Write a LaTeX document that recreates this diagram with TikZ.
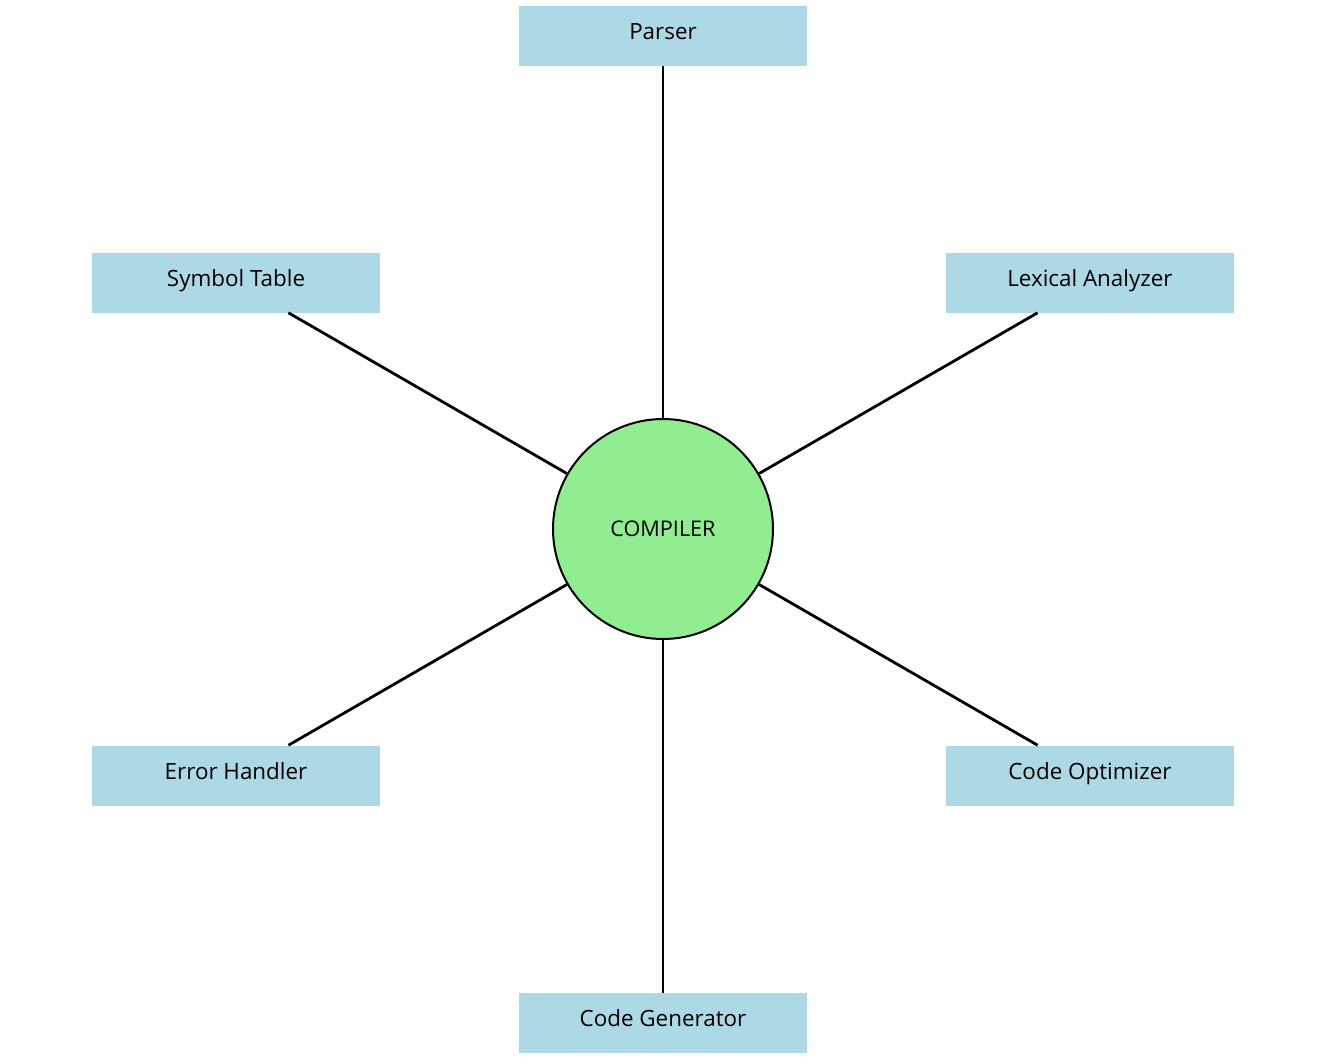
\documentclass[tikz,border=0pt]{standalone}
\usepackage{fontspec}
\setmainfont{Open Sans}
\usepackage{tikz}
\definecolor{boxblue}{HTML}{ADD8E6}
\definecolor{coregreen}{HTML}{90EE90}

\begin{document}
\begin{tikzpicture}[x=0.75pt,y=-0.75pt,
    part/.style={fill=boxblue, minimum width=216pt, minimum height=45pt, inner sep=0pt, text height=10pt, text depth=4.4pt, font=\fontsize{16.8}{20}\selectfont},
    core/.style={circle, draw=black, line width=1.5pt, fill=coregreen, minimum size=165pt, inner sep=0pt, font=\fontsize{16.2}{20}\selectfont},
    link/.style={line width=2.1pt, black}]
    % Fix the canvas size
    \useasboundingbox (0,0) rectangle (1321,1057);

    % Centre of the picture and distance to the parts
    \def\cx{663}
    \def\cy{529}
    \def\rad{493}

    % The compiler in the middle
    \node[core] (compiler) at (\cx,\cy) {COMPILER};

    % The six parts around it
    \node[part] (parser) at (\cx,36) {Parser};
    \node[part] (lexer) at ({\cx+\rad*cos(30)},{\cy-\rad*sin(30)}) {Lexical Analyzer};
    \node[part] (symtab) at ({\cx-\rad*cos(30)},{\cy-\rad*sin(30)}) {Symbol Table};
    \node[part] (errors) at ({\cx-\rad*cos(30)},{\cy+\rad*sin(30)}) {Error Handler};
    \node[part] (optimizer) at ({\cx+\rad*cos(30)},{\cy+\rad*sin(30)}) {Code Optimizer};
    \node[part] (codegen) at (\cx,1023) {Code Generator};

    % Connect each part to the compiler
    \foreach \p in {parser, lexer, symtab, errors, optimizer, codegen}
        \draw[link] (compiler) -- (\p);

\end{tikzpicture}
\end{document}
